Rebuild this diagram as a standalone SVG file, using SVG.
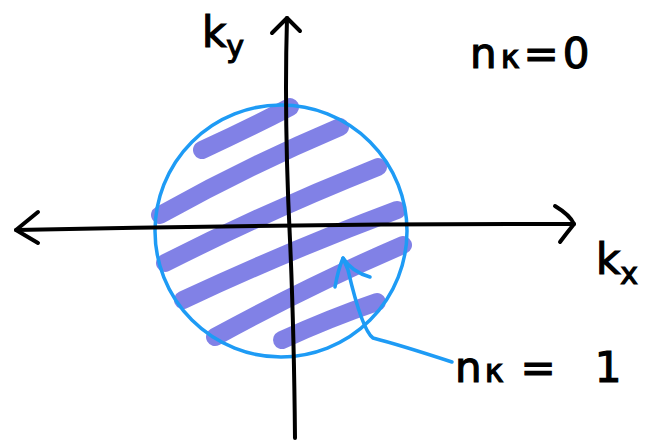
<svg xmlns="http://www.w3.org/2000/svg" width="660" height="443" viewBox="0 0 660 443">
<style>
.ax{fill:none;stroke:#000;stroke-width:4;stroke-linecap:round;stroke-linejoin:round}
.hatch{fill:none;stroke:#6f6fe3;stroke-opacity:0.88;stroke-width:18;stroke-linecap:round;stroke-linejoin:round}
.blue{fill:none;stroke:#1e9bf5;stroke-width:3.5;stroke-linecap:round;stroke-linejoin:round}
.lbl{font-family:"DejaVu Sans",sans-serif;fill:#000;stroke:#000;stroke-width:1.2;font-size:42px}
</style>
<rect width="660" height="443" fill="#fff"/>
<g id="fill-region">
<path class="hatch" d="M202,150 Q250,128 290,107"/>
<path class="hatch" d="M160,215 Q250,165 340,127"/>
<path class="hatch" d="M165,263 Q270,210 378,167"/>
<path class="hatch" d="M183,300 Q290,250 397,210"/>
<path class="hatch" d="M215,337 Q310,285 403,245"/>
<path class="hatch" d="M282,340 Q330,318 377,302"/>
</g>
<g id="circle">
<circle class="blue" cx="281" cy="231" r="126"/>
</g>
<g id="connectors">
<path class="ax" d="M16,230 Q290,224 574,224"/>
<path class="ax" d="M38,212 L16,230 L38,243"/>
<path class="ax" d="M555,206 Q570,215 574,224 Q566,234 560,242"/>
<path class="ax" d="M287,18 Q284,120 290,240 Q294,330 295,438"/>
<path class="ax" d="M272,33 L287,18 L300,31"/>
<path class="blue" d="M452,362 Q400,345 373,338 Q362,330 348,270 L343,258"/>
<path class="blue" d="M335,287 Q338,270 343,258 Q352,272 370,277"/>
</g>
<g id="labels">
<text class="lbl" x="202" y="47">k<tspan font-size="30" dy="10">y</tspan></text>
<text class="lbl" x="470" y="68" letter-spacing="4">n<tspan font-size="32">κ</tspan>=0</text>
<text class="lbl" x="596" y="274">k<tspan font-size="30" dy="10">x</tspan></text>
<text class="lbl" x="455" y="382" letter-spacing="3">n<tspan font-size="32">κ</tspan><tspan dx="14">=</tspan><tspan dx="36">1</tspan></text>
</g>
</svg>
